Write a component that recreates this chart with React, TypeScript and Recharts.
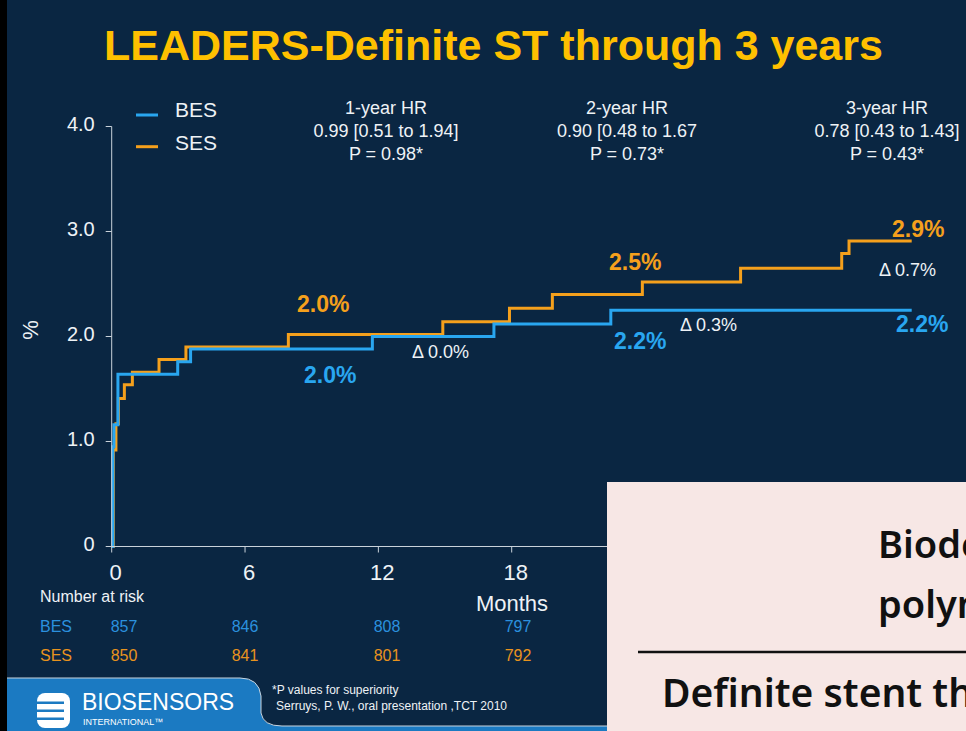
import React from "react";
import { LineChart, Line, XAxis, YAxis } from "recharts";

// ---- data ----
const besMonths = [0, 0.05, 0.1, 0.28, 2.97, 3.55, 11.73, 17.2, 22.46, 36];
const besValues = [0, 0.95, 1.16, 1.64, 1.76, 1.88, 2.0, 2.12, 2.25, 2.25];

const sesMonths = [0, 0.07, 0.19, 0.3, 0.57, 0.93, 2.13, 3.34, 7.95, 14.9, 17.9, 19.83, 23.88, 28.3, 32.85, 33.18, 36];
const sesValues = [0, 0.92, 1.17, 1.41, 1.54, 1.66, 1.78, 1.9, 2.02, 2.14, 2.27, 2.4, 2.52, 2.65, 2.79, 2.91, 2.91];

const xTicks = [0, 6, 12, 18, 24, 30, 36];
const xVisibleTicks = [0, 6, 12, 18];
const yTicks = [0, 1, 2, 3, 4];
const yTickLabels = ["0", "1.0", "2.0", "3.0", "4.0"];

const riskBES = ["857", "846", "808", "797"];
const riskSES = ["850", "841", "801", "792"];

const hrTitles = ["1-year HR", "2-year HR", "3-year HR"];
const hrValues = ["0.99 [0.51 to 1.94]", "0.90 [0.48 to 1.67", "0.78 [0.43 to 1.43]"];
const hrPValues = ["P = 0.98*", "P = 0.73*", "P = 0.43*"];

const besData = besMonths.map((m, i) => ({ m, v: besValues[i] }));
const sesData = sesMonths.map((m, i) => ({ m, v: sesValues[i] }));

const BG = "#0a2642";
const BLUE = "#29a6f0";
const ORANGE = "#f5a01c";
const TXT = "#eef2f6";
const FONT = "'Liberation Sans', Arial, sans-serif";

const YTick = (props: any) => {
  const { x, y, payload } = props;
  const idx = yTicks.indexOf(payload.value);
  return (
    <text x={x - 9} y={y - 3} fill={TXT} fontSize={20} fontFamily={FONT} textAnchor="end" dominantBaseline="central">
      {yTickLabels[idx]}
    </text>
  );
};

const XTick = (props: any) => {
  const { x, y, payload } = props;
  if (!xVisibleTicks.includes(payload.value)) return null;
  return (
    <text x={x + 4} y={y + 25} fill={TXT} fontSize={22} fontFamily={FONT} textAnchor="middle">
      {payload.value}
    </text>
  );
};

const hrCenters = [386, 627, 887];
const riskCenters = [124, 245, 387, 518];

export default function App() {
  return (
    <div style={{ position: "absolute", left: 0, top: 0, width: 966, height: 731, background: BG, overflow: "hidden" }}>
      <div style={{ position: "absolute", left: 0, top: 0, width: 7, height: 731, background: "#000" }} />
      <div style={{ position: "absolute", left: 0, top: 0 }}>
        <LineChart
          width={966}
          height={731}
          margin={{ top: 126.5, right: 54.3, bottom: 154.5, left: 51.7 }}
        >
          <XAxis
            dataKey="m"
            type="number"
            domain={[0, 36]}
            ticks={xTicks}
            height={30}
            stroke="#c9d2da"
            tick={<XTick />}
            tickSize={6}
          />
          <YAxis
            type="number"
            domain={[0, 4]}
            ticks={yTicks}
            width={60}
            stroke="#c9d2da"
            tick={<YTick />}
            tickSize={6}
          />
          <Line data={sesData} dataKey="v" type="stepAfter" stroke={ORANGE} strokeWidth={3} dot={false} isAnimationActive={false} />
          <Line data={besData} dataKey="v" type="stepAfter" stroke={BLUE} strokeWidth={3} dot={false} isAnimationActive={false} />
        </LineChart>
      </div>

      <svg width={966} height={731} style={{ position: "absolute", left: 0, top: 0, pointerEvents: "none" }}>
        {/* title */}
        <text x={104} y={60} fill="#ffc000" fontSize={43} fontWeight="bold" fontFamily={FONT}>
          LEADERS-Definite ST through 3 years
        </text>

        {/* legend */}
        <line x1={136} x2={158} y1={115} y2={115} stroke={BLUE} strokeWidth={3} />
        <text x={175} y={116.7} fill={TXT} fontSize={21} fontFamily={FONT}>BES</text>
        <line x1={136} x2={158} y1={146.7} y2={146.7} stroke={ORANGE} strokeWidth={3} />
        <text x={175} y={150} fill={TXT} fontSize={21} fontFamily={FONT}>SES</text>

        {/* HR blocks */}
        {hrCenters.map((cx, i) => (
          <g key={i} fill={TXT} fontSize={18} fontFamily={FONT} textAnchor="middle">
            <text x={cx} y={114}>{hrTitles[i]}</text>
            <text x={cx} y={137}>{hrValues[i]}</text>
            <text x={cx} y={160}>{hrPValues[i]}</text>
          </g>
        ))}

        {/* y axis label */}
        <text x={30} y={330} fill={TXT} fontSize={22} fontFamily={FONT} textAnchor="middle" dominantBaseline="central" transform="rotate(-90 30 330)">%</text>

        {/* annotations */}
        <g fontFamily={FONT} fontWeight="bold" fontSize={23}>
          <text x={297} y={312} fill={ORANGE}>2.0%</text>
          <text x={304} y={382.7} fill={BLUE}>2.0%</text>
          <text x={609} y={270} fill={ORANGE}>2.5%</text>
          <text x={614} y={349} fill={BLUE}>2.2%</text>
          <text x={892} y={237.3} fill={ORANGE}>2.9%</text>
          <text x={896} y={332} fill={BLUE}>2.2%</text>
        </g>
        <g fontFamily={FONT} fontSize={18} fill={TXT}>
          <text x={412} y={358}>Δ 0.0%</text>
          <text x={680} y={331}>Δ 0.3%</text>
          <text x={879} y={276}>Δ 0.7%</text>
        </g>

        {/* Months + number at risk */}
        <text x={512} y={611} fill={TXT} fontSize={22} fontFamily={FONT} textAnchor="middle">Months</text>
        <text x={40} y={601.7} fill={TXT} fontSize={16} fontFamily={FONT}>Number at risk</text>
        <text x={40} y={631.7} fill="#2b90de" fontSize={16} fontFamily={FONT}>BES</text>
        <text x={40} y={660.7} fill="#e8931e" fontSize={16} fontFamily={FONT}>SES</text>
        {riskCenters.map((cx, i) => (
          <g key={i} fontSize={16} fontFamily={FONT} textAnchor="middle">
            <text x={cx} y={631.7} fill="#2b90de">{riskBES[i]}</text>
            <text x={cx} y={660.7} fill="#e8931e">{riskSES[i]}</text>
          </g>
        ))}

        {/* footer band */}
        <path d="M7 678 H240 Q259 678 261 696 V713 Q263 726 282 726 H607 V731 H7 Z" fill="#1b7ac2" />
        <path d="M7 678 H240 Q259 678 261 696 V713 Q263 726 282 726 H607" fill="none" stroke="#c8d4de" strokeWidth={1} />
        {/* logo icon */}
        <rect x={37} y={693} width={33} height={35} rx={8} fill="#fff" />
        <rect x={37} y={701.5} width={27} height={2.5} fill="#1b7ac2" />
        <rect x={37} y={709.5} width={27} height={2.5} fill="#1b7ac2" />
        <rect x={37} y={717.5} width={27} height={2.5} fill="#1b7ac2" />
        <text x={82} y={710} fill="#fff" fontSize={23} fontFamily={FONT}>BIOSENSORS</text>
        <text x={83} y={725} fill="#fff" fontSize={9} fontFamily={FONT}>INTERNATIONAL™</text>
        <text x={272} y={694} fill={TXT} fontSize={12} fontFamily={FONT}>*P values for superiority</text>
        <text x={276} y={710} fill={TXT} fontSize={12} fontFamily={FONT}>Serruys, P. W., oral presentation ,TCT 2010</text>

        {/* overlay box */}
        <rect x={607} y={482} width={359} height={249} fill="#f7e7e5" />
        <g fill="#111" fontFamily="'Noto Sans', sans-serif" fontWeight={600}>
          <text x={878} y={558} fontSize={38}>Biodegradable</text>
          <text x={878} y={618} fontSize={38}>polymer</text>
          <text x={662} y={707} fontSize={39}>Definite stent thrombosis</text>
        </g>
        <line x1={638} x2={966} y1={652} y2={652} stroke="#111" strokeWidth={2.5} />
      </svg>
    </div>
  );
}
